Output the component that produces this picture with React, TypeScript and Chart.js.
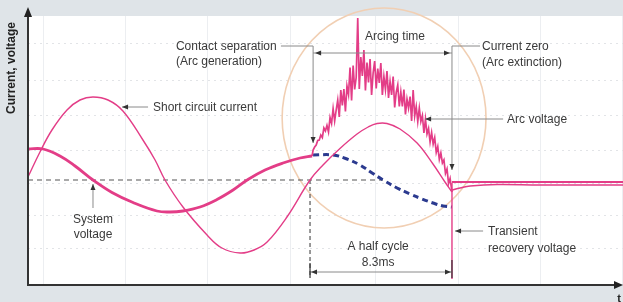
import React, { useEffect, useRef } from 'react';
import { Chart, registerables } from 'chart.js';

Chart.register(...registerables);

// x: time in ms (0 = current zero before contact separation), y: per-unit amplitude
const X_MIN = -16.49;
const X_MAX = 18.3;
const Y_MIN = -2.08;
const Y_MAX = 3.28;

const shortCircuitCurrent: [number, number][] = [
  [-16.49, 0.06], [-15.79, 0.56], [-15.09, 1.0], [-14.21, 1.4], [-13.45, 1.6], [-12.69, 1.66],
  [-11.81, 1.6], [-10.94, 1.38], [-9.77, 0.8], [-9.06, 0.4], [-8.48, 0.0], [-7.43, -0.54],
  [-6.02, -1.1], [-5.15, -1.36], [-4.09, -1.46], [-3.27, -1.4], [-2.51, -1.24], [-1.35, -0.74],
  [0.0, 0.0], [0.76, 0.3], [1.75, 0.63], [2.75, 0.92], [3.4, 1.06], [3.92, 1.13], [4.5, 1.13],
  [5.26, 1.02], [6.26, 0.74], [7.19, 0.32], [7.89, -0.04], [8.3, -0.24],
];

const systemVoltage: [number, number][] = [
  [-16.49, 0.62], [-15.61, 0.62], [-14.62, 0.48], [-13.74, 0.28], [-12.69, 0.0], [-11.58, -0.25],
  [-10.35, -0.45], [-8.95, -0.62], [-8.19, -0.64], [-7.43, -0.62], [-6.43, -0.54], [-5.44, -0.39],
  [-4.5, -0.2], [-3.63, 0.01], [-2.63, 0.2], [-1.58, 0.34], [-0.58, 0.44], [0.12, 0.48],
];

const arcVoltage: [number, number][] = [
  [0.12, 0.48], [0.18, 0.6], [0.27, 0.66], [0.36, 0.7], [0.45, 0.79], [0.54, 0.8], [0.63, 0.9],
  [0.72, 0.85], [0.81, 1.04], [0.9, 0.98], [0.99, 1.09], [1.08, 0.96], [1.17, 1.25], [1.26, 1.13],
  [1.35, 1.43], [1.44, 1.18], [1.53, 1.4], [1.62, 1.6], [1.71, 1.26], [1.8, 1.8], [1.89, 1.49],
  [1.98, 1.82], [2.07, 1.37], [2.16, 1.88], [2.25, 1.71], [2.34, 2.25], [2.43, 1.59], [2.52, 2.29],
  [2.61, 1.81], [2.7, 2.05], [2.79, 3.24], [2.88, 1.82], [2.97, 2.46], [3.06, 2.08], [3.15, 2.6],
  [3.24, 1.79], [3.33, 2.35], [3.42, 1.95], [3.51, 2.42], [3.6, 1.7], [3.69, 2.14], [3.78, 2.38],
  [3.87, 1.83], [3.96, 2.23], [4.05, 1.94], [4.14, 2.34], [4.23, 1.7], [4.32, 2.07], [4.41, 1.81],
  [4.5, 2.18], [4.59, 1.64], [4.68, 1.97], [4.77, 1.7], [4.86, 2.07], [4.95, 1.45], [5.04, 1.75],
  [5.13, 1.9], [5.22, 1.47], [5.31, 1.76], [5.4, 1.47], [5.49, 1.81], [5.58, 1.31], [5.67, 1.62],
  [5.76, 1.44], [5.85, 1.67], [5.94, 1.18], [6.03, 1.8], [6.12, 1.28], [6.21, 1.47], [6.3, 1.17],
  [6.39, 1.44], [6.48, 1.17], [6.57, 1.29], [6.66, 0.94], [6.75, 1.22], [6.84, 0.92], [6.93, 1.03],
  [7.02, 0.76], [7.11, 0.95], [7.2, 0.72], [7.29, 0.85], [7.38, 0.55], [7.47, 0.67], [7.56, 0.41],
  [7.65, 0.54], [7.74, 0.34], [7.83, 0.4], [7.92, 0.13], [8.01, 0.22], [8.1, -0.07], [8.19, 0.03],
  [8.3, -0.24],
];

const postArcUpper: [number, number][] = [
  [8.3, -0.04], [18.3, -0.04],
];

const postArcLower: [number, number][] = [
  [8.3, -0.2], [8.77, -0.16], [9.36, -0.12], [10.94, -0.09], [13.45, -0.1], [18.3, -0.1],
];

const recoveryVoltage: [number, number][] = [
  [8.3, -0.06], [8.3, -1.98],
];

const prospectiveVoltage: [number, number][] = [
  [0.18, 0.5], [1.35, 0.5], [2.16, 0.42], [2.92, 0.3], [3.63, 0.14], [4.27, 0.0], [5.09, -0.16],
  [5.85, -0.28], [6.55, -0.38], [7.19, -0.46], [7.78, -0.52], [8.3, -0.54],
];

const zeroLine: [number, number][] = [[-16.49, 0], [4.27, 0]];
const halfCycleStart: [number, number][] = [[0, 0], [0, -1.96]];

const gridX = [-15.61, -10.82, -6.02, -1.17, 3.8, 8.65, 13.45, 18.25];
const gridY = [2.74, 2.0, 1.3, 0.6, -0.06, -0.7, -1.36];

const SEP_X = 0.18;
const ZERO_X = 8.3;

const PINK = '#e33d87';
const TEXT = '#3a3a3a';
const LEADER = '#8a8a8a';
const FONT = '12px "Liberation Sans", Arial, sans-serif';

function pts(a: [number, number][]) {
  return a.map(([x, y]) => ({ x, y }));
}

function head(ctx: CanvasRenderingContext2D, x1: number, y1: number, x2: number, y2: number, len = 6, hw = 2.5, color = '#333') {
  const ang = Math.atan2(y2 - y1, x2 - x1);
  ctx.save();
  ctx.fillStyle = color;
  ctx.beginPath();
  ctx.moveTo(x2, y2);
  ctx.lineTo(x2 - len * Math.cos(ang) + hw * Math.sin(ang), y2 - len * Math.sin(ang) - hw * Math.cos(ang));
  ctx.lineTo(x2 - len * Math.cos(ang) - hw * Math.sin(ang), y2 - len * Math.sin(ang) + hw * Math.cos(ang));
  ctx.closePath();
  ctx.fill();
  ctx.restore();
}

function line(ctx: CanvasRenderingContext2D, x1: number, y1: number, x2: number, y2: number, color = LEADER, w = 1) {
  ctx.save();
  ctx.strokeStyle = color;
  ctx.lineWidth = w;
  ctx.beginPath();
  ctx.moveTo(x1, y1);
  ctx.lineTo(x2, y2);
  ctx.stroke();
  ctx.restore();
}

const decor = {
  id: 'decor',
  beforeDraw(chart: any) {
    const { ctx, chartArea: a, width, height } = chart;
    ctx.save();
    ctx.fillStyle = '#dfe4e8';
    ctx.fillRect(0, 0, width, height);
    ctx.fillStyle = '#ffffff';
    ctx.fillRect(a.left, a.top, a.right - a.left, a.bottom - a.top);
    ctx.restore();
  },
  beforeDatasetsDraw(chart: any) {
    const { ctx, chartArea: a } = chart;
    const xs = chart.scales.x, ys = chart.scales.y;
    ctx.save();
    ctx.strokeStyle = '#eceef1';
    ctx.lineWidth = 1;
    gridX.forEach((g) => {
      const p = Math.round(xs.getPixelForValue(g)) + 0.5;
      ctx.beginPath(); ctx.moveTo(p, a.top); ctx.lineTo(p, a.bottom); ctx.stroke();
    });
    ctx.strokeStyle = '#e2e4e7';
    ctx.setLineDash([2, 4]);
    gridY.forEach((g) => {
      const p = Math.round(ys.getPixelForValue(g)) + 0.5;
      ctx.beginPath(); ctx.moveTo(a.left, p); ctx.lineTo(a.right, p); ctx.stroke();
    });
    ctx.setLineDash([]);
    // circle highlighting the arcing zone
    const cx = xs.getPixelForValue(4.33), cy = ys.getPixelForValue(1.24);
    const rx = xs.getPixelForValue(4.33 + 5.96) - cx;
    const ry = cy - ys.getPixelForValue(1.24 + 2.2);
    ctx.strokeStyle = '#f1cfb3';
    ctx.lineWidth = 1.6;
    ctx.beginPath();
    ctx.ellipse(cx, cy, rx, ry, 0, 0, Math.PI * 2);
    ctx.stroke();
    ctx.restore();
  },
  afterDatasetsDraw(chart: any) {
    const { ctx, chartArea: a } = chart;
    const xs = chart.scales.x, ys = chart.scales.y;
    const X = (v: number) => xs.getPixelForValue(v);
    const Y = (v: number) => ys.getPixelForValue(v);

    // axes
    line(ctx, a.left, a.bottom + 1, a.left, a.top - 6, '#333', 2);
    head(ctx, a.left, a.top, a.left, a.top - 9, 10, 4, '#222');
    line(ctx, a.left - 1, a.bottom + 1, a.right - 4, a.bottom + 1, '#333', 2);
    head(ctx, a.right - 8, a.bottom + 1, a.right, a.bottom + 1, 9, 4, '#222');

    ctx.save();
    ctx.font = FONT;
    ctx.fillStyle = TEXT;
    ctx.textBaseline = 'middle';

    // Contact separation
    const sx = X(SEP_X);
    line(ctx, X(-1.7), Y(2.68), sx, Y(2.68));
    line(ctx, sx, Y(2.68), sx, Y(0.74));
    head(ctx, sx, Y(0.9), sx, Y(0.74), 6, 2.5);
    ctx.textAlign = 'left';
    ctx.fillText('Contact separation', X(-7.84), Y(2.66));
    ctx.fillText('(Arc generation)', X(-7.84), Y(2.36));

    // Current zero
    const zx = X(ZERO_X);
    line(ctx, zx, Y(2.68), X(9.94), Y(2.68));
    line(ctx, zx, Y(2.68), zx, Y(0.2));
    head(ctx, zx, Y(0.4), zx, Y(0.2), 6, 2.5);
    ctx.fillText('Current zero', X(10.06), Y(2.66));
    ctx.fillText('(Arc extinction)', X(10.06), Y(2.34));

    // Arcing time
    line(ctx, sx, Y(2.54), zx, Y(2.54));
    head(ctx, sx + 8, Y(2.54), sx + 2, Y(2.54), 6, 2.5);
    head(ctx, zx - 8, Y(2.54), zx - 2, Y(2.54), 6, 2.5);
    ctx.textAlign = 'center';
    ctx.fillText('Arcing time', X(4.97), Y(2.86));

    // Arc voltage
    line(ctx, X(6.73), Y(1.22), X(11.29), Y(1.22));
    head(ctx, X(7.2), Y(1.22), X(6.73), Y(1.22), 6, 2.5);
    ctx.textAlign = 'left';
    ctx.fillText('Arc voltage', X(11.52), Y(1.2));

    // Short circuit current
    line(ctx, X(-10.99), Y(1.46), X(-9.47), Y(1.46));
    head(ctx, X(-10.6), Y(1.46), X(-10.99), Y(1.46), 6, 2.5);
    ctx.fillText('Short circuit current', X(-9.18), Y(1.44));

    // System voltage
    line(ctx, X(-12.69), Y(-0.08), X(-12.69), Y(-0.56));
    head(ctx, X(-12.69), Y(-0.3), X(-12.69), Y(-0.08), 6, 2.5);
    ctx.textAlign = 'center';
    ctx.fillText('System', X(-12.69), Y(-0.8));
    ctx.fillText('voltage', X(-12.69), Y(-1.1));

    // Half cycle
    const h0 = X(0);
    line(ctx, h0, Y(-1.84), zx, Y(-1.84));
    head(ctx, h0 + 8, Y(-1.84), h0 + 1, Y(-1.84), 6, 2.5);
    head(ctx, zx - 8, Y(-1.84), zx - 1, Y(-1.84), 6, 2.5);
    line(ctx, h0, Y(-1.66), h0, Y(-1.96), '#333', 1.2);
    line(ctx, zx, Y(-1.6), zx, Y(-1.96), '#333', 1.2);
    ctx.fillText('A half cycle', X(3.98), Y(-1.34));
    ctx.fillText('8.3ms', X(3.98), Y(-1.66));

    // Transient recovery voltage
    line(ctx, X(8.48), Y(-1.02), X(10.12), Y(-1.02));
    head(ctx, X(8.9), Y(-1.02), X(8.48), Y(-1.02), 6, 2.5);
    ctx.textAlign = 'left';
    ctx.fillText('Transient', X(10.41), Y(-1.04));
    ctx.fillText('recovery voltage', X(10.41), Y(-1.38));

    // axis titles
    ctx.font = 'bold 12px "Liberation Sans", Arial, sans-serif';
    ctx.fillStyle = '#222';
    ctx.save();
    ctx.translate(a.left - 16, Y(2.24));
    ctx.rotate(-Math.PI / 2);
    ctx.textAlign = 'center';
    ctx.fillText('Current, voltage', 0, 0);
    ctx.restore();
    ctx.textAlign = 'center';
    ctx.font = 'bold 11px "Liberation Sans", Arial, sans-serif';
    ctx.fillText('t', X(18.07), Y(-2.38));
    ctx.restore();
  },
};

export default function App() {
  const ref = useRef<HTMLCanvasElement | null>(null);
  useEffect(() => {
    document.body.style.margin = '0';
    if (!ref.current) return;
    const chart = new Chart(ref.current, {
      type: 'scatter',
      data: {
        datasets: [
          { data: pts(arcVoltage), borderColor: PINK, borderWidth: 1.7, tension: 0 },
          { data: pts(systemVoltage), borderColor: PINK, borderWidth: 2.8, tension: 0.4 },
          { data: pts(postArcUpper), borderColor: PINK, borderWidth: 1.8, tension: 0 },
          { data: pts(postArcLower), borderColor: PINK, borderWidth: 1.6, tension: 0.4 },
          { data: pts(recoveryVoltage), borderColor: PINK, borderWidth: 1.4, tension: 0 },
          { data: pts(shortCircuitCurrent), borderColor: PINK, borderWidth: 1.4, tension: 0.4 },
          { data: pts(prospectiveVoltage), borderColor: '#2b3a8f', borderWidth: 3, borderDash: [6, 4], tension: 0.4 },
          { data: pts(zeroLine), borderColor: '#555', borderWidth: 1.2, borderDash: [5, 4], tension: 0 },
          { data: pts(halfCycleStart), borderColor: '#555', borderWidth: 1.2, borderDash: [4, 3], tension: 0 },
        ].map((d: any) => ({ ...d, showLine: true, pointRadius: 0, pointHoverRadius: 0, fill: false })),
      },
      options: {
        animation: false,
        responsive: false,
        events: [],
        layout: { padding: { left: 28, right: 0, top: 16, bottom: 18 } },
        plugins: { legend: { display: false }, tooltip: { enabled: false } },
        scales: {
          x: { type: 'linear', min: X_MIN, max: X_MAX, display: false },
          y: { type: 'linear', min: Y_MIN, max: Y_MAX, display: false },
        },
      },
      plugins: [decor],
    });
    return () => chart.destroy();
  }, []);
  return (
    <div style={{ width: 623, height: 302 }}>
      <canvas ref={ref} width={623} height={302} style={{ display: 'block' }} />
    </div>
  );
}
